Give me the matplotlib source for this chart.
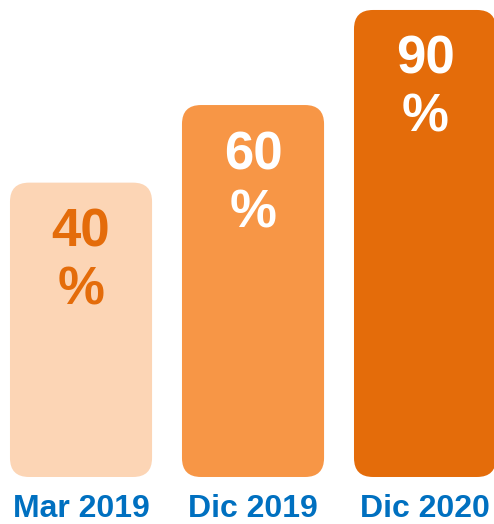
import numpy as np
import matplotlib
matplotlib.use("Agg")
import matplotlib.pyplot as plt
from matplotlib.patches import FancyBboxPatch

# data
periods = ["Mar 2019", "Dic 2019", "Dic 2020"]
shares = [40, 60, 90]
value_labels = ["40", "60", "90"]

BAR_COLORS = ["#FCD5B5", "#F79646", "#E46C0A"]
TEXT_COLORS = ["#E46C0A", "#FFFFFF", "#FFFFFF"]
LABEL_BLUE = "#0070C0"

BAR_FLOOR = 0.872   # bars start slightly above zero on the sqrt scale
BAR_W = 0.826
RADIUS_PX = 19

plt.rcParams["font.family"] = ["Liberation Sans", "DejaVu Sans"]

fig = plt.figure(figsize=(4.94, 5.24), dpi=100)
ax = fig.add_axes([0, 0, 1, 1])
ax.set_yscale("function", functions=(np.sqrt, np.square))
ax.set_xlim(-0.471, 2.401)
ax.set_ylim(0.0053, 93.5)
ax.axis("off")

x = np.arange(len(periods))
bars = ax.bar(x, np.array(shares) - BAR_FLOOR, bottom=BAR_FLOOR, width=BAR_W)

# swap plain bars for rounded ones, drawn in pixel space behind the axes
fig.canvas.draw()
for rect, col in zip(bars, BAR_COLORS):
    bb = rect.get_window_extent()
    rect.remove()
    fig.patches.append(FancyBboxPatch(
        (bb.x0, bb.y0), bb.width, bb.height,
        boxstyle=f"round,pad=0,rounding_size={RADIUS_PX}",
        transform=None, figure=fig, zorder=-1,
        facecolor=col, edgecolor="none",
    ))

for xi, v, lab, tc in zip(x, shares, value_labels, TEXT_COLORS):
    ax.annotate(lab, (xi, v), xytext=(0, -50 * 0.72), textcoords="offset points",
                ha="center", va="center", fontsize=38, fontweight="bold", color=tc)
    ax.annotate("%", (xi, v), xytext=(0, -108 * 0.72), textcoords="offset points",
                ha="center", va="center", fontsize=38, fontweight="bold", color=tc)

trans = ax.get_xaxis_transform()
for xi, p in zip(x, periods):
    ax.text(xi, 0.013, p, transform=trans, ha="center", va="baseline",
            fontsize=23, fontweight="bold", color=LABEL_BLUE)

fig.savefig("out.png", dpi=100)
